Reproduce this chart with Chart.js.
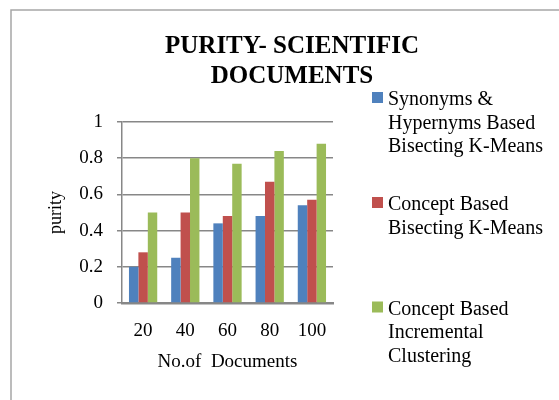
<!DOCTYPE html>
<html>
<head>
<meta charset="utf-8">
<script src="https://cdn.jsdelivr.net/npm/chart.js@4"></script>
<style>
  body { margin: 0; background: #fff; }
  canvas { display: block; }
</style>
</head>
<body>
<canvas id="chart" width="559" height="400"></canvas>
<script>
const documents = ['20', '40', '60', '80', '100'];
const synonymsBisecting = [0.20, 0.25, 0.44, 0.48, 0.54];
const conceptBisecting = [0.28, 0.50, 0.48, 0.67, 0.57];
const conceptIncremental = [0.50, 0.80, 0.77, 0.84, 0.88];
const seriesLabels = [
  ['Synonyms &', 'Hypernyms Based', 'Bisecting K-Means'],
  ['Concept Based', 'Bisecting K-Means'],
  ['Concept Based', 'Incremental', 'Clustering']
];
const titleLines = ['PURITY- SCIENTIFIC', 'DOCUMENTS'];
const colors = ['#4F81BD', '#C0504D', '#9BBB59'];
const serif = '"Liberation Serif", "Times New Roman", Times, serif';
const gridGray = '#878787';

// frame, title and the side legend are drawn by hand, like the office chart
const decorations = {
  id: 'decorations',
  beforeDraw(chart) {
    const ctx = chart.ctx;
    ctx.save();
    ctx.strokeStyle = '#a6a6a6';
    ctx.lineWidth = 1.5;
    ctx.strokeRect(11, 10, 700, 500);
    ctx.restore();
  },
  afterDraw(chart) {
    const ctx = chart.ctx;
    ctx.save();
    ctx.fillStyle = '#000';
    ctx.textAlign = 'center';
    ctx.textBaseline = 'alphabetic';
    ctx.font = 'bold 25px ' + serif;
    titleLines.forEach((t, i) => ctx.fillText(t, 292, 53 + i * 30));

    ctx.textAlign = 'left';
    ctx.font = '20px ' + serif;
    const firstBase = [105, 210, 314.5];
    chart.data.datasets.forEach((ds, i) => {
      const y0 = firstBase[i];
      ctx.fillStyle = ds.backgroundColor;
      ctx.fillRect(372, y0 - 13, 11, 11);
      ctx.fillStyle = '#000';
      seriesLabels[i].forEach((line, j) => ctx.fillText(line, 388, y0 + j * 23.5));
    });
    ctx.restore();
  }
};

new Chart(document.getElementById('chart'), {
  type: 'bar',
  data: {
    labels: documents,
    datasets: [
      { label: seriesLabels[0].join(' '), data: synonymsBisecting, backgroundColor: colors[0] },
      { label: seriesLabels[1].join(' '), data: conceptBisecting, backgroundColor: colors[1] },
      { label: seriesLabels[2].join(' '), data: conceptIncremental, backgroundColor: colors[2] }
    ]
  },
  options: {
    responsive: false,
    animation: false,
    devicePixelRatio: 1,
    layout: { padding: { left: 45, right: 226, top: 122, bottom: 0 } },
    datasets: { bar: { categoryPercentage: 0.67, barPercentage: 1.0 } },
    plugins: {
      legend: { display: false },
      title: { display: false },
      tooltip: { enabled: false }
    },
    scales: {
      x: {
        grid: { display: false },
        border: { display: true, color: gridGray, width: 2.5 },
        ticks: { color: '#000', padding: 9, font: { family: serif, size: 19 } },
        title: {
          display: true,
          text: 'No.of  Documents',
          color: '#000',
          font: { family: serif, size: 19 },
          padding: { top: 0, bottom: 27 }
        },
        afterFit(scale) { scale.height = 97; }
      },
      y: {
        min: 0,
        max: 1,
        ticks: {
          stepSize: 0.2,
          color: '#000',
          padding: 14,
          font: { family: serif, size: 19 },
          callback: (v) => String(Math.round(v * 10) / 10)
        },
        grid: { color: gridGray, lineWidth: 1.5, tickLength: 5, drawTicks: true },
        border: { display: true, color: gridGray, width: 1.5 },
        title: {
          display: true,
          text: 'purity',
          color: '#000',
          font: { family: serif, size: 18 },
          padding: { top: 0, bottom: 0 }
        },
        afterFit(scale) { scale.width = 77; }
      }
    }
  },
  plugins: [decorations]
});
</script>
</body>
</html>
